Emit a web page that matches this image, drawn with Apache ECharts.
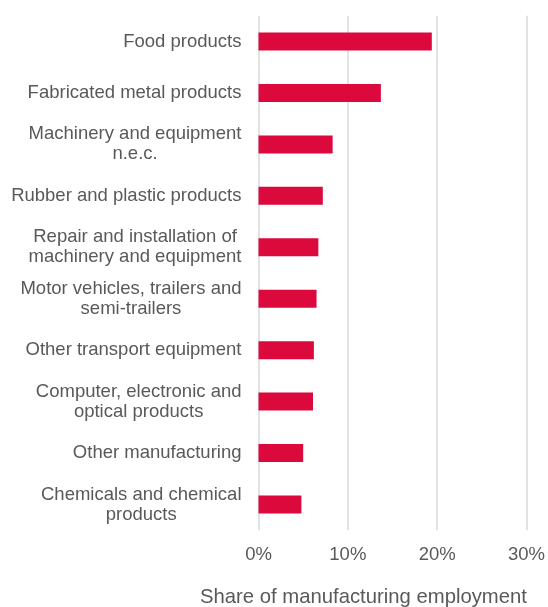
<!DOCTYPE html>
<html>
<head>
<meta charset="utf-8">
<script src="https://cdn.jsdelivr.net/npm/echarts@6/dist/echarts.min.js"></script>
<style>
  html, body { margin: 0; padding: 0; background: #fff; }
  #chart { width: 548px; height: 607px; }
</style>
</head>
<body>
<div id="chart"></div>
<script>
// Manufacturing industries, top to bottom
const categories = [
  'Food products',
  'Fabricated metal products',
  'Machinery and equipment\nn.e.c.',
  'Rubber and plastic products',
  'Repair and installation of\nmachinery and equipment',
  'Motor vehicles, trailers and\nsemi-trailers',
  'Other transport equipment',
  'Computer, electronic and\noptical products',
  'Other manufacturing',
  'Chemicals and chemical\nproducts'
];
// Share of manufacturing employment (%)
const shares = [19.4, 13.7, 8.3, 7.2, 6.7, 6.5, 6.2, 6.1, 5.0, 4.8];
const xTicks = [0, 10, 20, 30];

const textColor = '#595959';
const font = 'Liberation Sans, Arial, sans-serif';

const chart = echarts.init(document.getElementById('chart'));
chart.setOption({
  animation: false,
  grid: { left: 258.5, right: 20.7, top: 15.8, bottom: 76.8, containLabel: false },
  xAxis: {
    type: 'value',
    min: xTicks[0],
    max: xTicks[xTicks.length - 1],
    interval: 10,
    axisLine: { show: false },
    axisTick: { show: false },
    splitLine: { show: true, lineStyle: { color: '#d9d9d9', width: 1.5 } },
    axisLabel: {
      color: textColor, fontSize: 18.5, fontFamily: font, margin: 15,
      formatter: v => v + '%'
    }
  },
  yAxis: {
    type: 'category',
    data: categories,
    inverse: true,
    axisLine: { show: false },
    axisTick: { show: false },
    axisLabel: {
      margin: 17,
      align: 'right',
      // each line is centred within the label block
      formatter: v => v.split('\n').map(s => '{c|' + s + '}').join('\n'),
      rich: {
        c: {
          color: textColor, fontSize: 18.5, fontFamily: font,
          lineHeight: 20, align: 'center'
        }
      }
    }
  },
  series: [{
    type: 'bar',
    data: shares,
    barCategoryGap: '65%',
    itemStyle: { color: '#dc0a3c' }
  }],
  graphic: [{
    type: 'text',
    left: 200,
    top: 587,
    style: {
      text: 'Share of manufacturing employment',
      fill: textColor,
      font: '20.3px ' + font
    }
  }]
});
</script>
</body>
</html>
